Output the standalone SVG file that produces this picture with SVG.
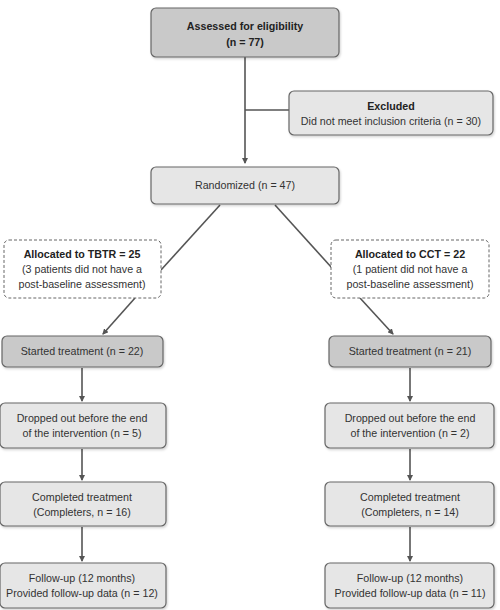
<svg xmlns="http://www.w3.org/2000/svg" width="500" height="610" viewBox="0 0 500 610">
<defs>
<marker id="ah" markerWidth="6" markerHeight="6" refX="5" refY="3" orient="auto" markerUnits="userSpaceOnUse">
<path d="M0,0 L6,3 L0,6 Z" fill="#555"/>
</marker>
<filter id="sh" x="-5%" y="-10%" width="115%" height="130%">
<feDropShadow dx="1" dy="1.5" stdDeviation="1" flood-color="#000" flood-opacity="0.18"/>
</filter>
</defs>
<style>
.box{stroke:#666;stroke-width:1.2;filter:url(#sh)}
.dark{fill:#c9c9c9}
.light{fill:#e6e6e6}
.dash{fill:#fff;stroke:#666;stroke-width:1;stroke-dasharray:3,2}
text{font-family:"Liberation Sans",Arial,sans-serif;font-size:10.7px;fill:#333;text-anchor:middle}
.b{font-weight:bold;fill:#222}
.ln{stroke:#555;stroke-width:1.6;fill:none}
</style>
<rect width="500" height="610" fill="#fff"/>
<g id="connectors">
<line class="ln" x1="245" y1="57" x2="245" y2="163" marker-end="url(#ah)"/>
<line class="ln" x1="245" y1="110" x2="289" y2="110"/>
<line class="ln" x1="220" y1="205" x2="161" y2="270"/>
<line class="ln" x1="275" y1="205" x2="332" y2="268"/>
<line class="ln" x1="135" y1="298" x2="103" y2="334" marker-end="url(#ah)"/>
<line class="ln" x1="360" y1="298" x2="393" y2="334" marker-end="url(#ah)"/>
<line class="ln" x1="82" y1="368" x2="82" y2="401" marker-end="url(#ah)"/>
<line class="ln" x1="82" y1="449" x2="82" y2="480" marker-end="url(#ah)"/>
<line class="ln" x1="82" y1="527" x2="82" y2="561" marker-end="url(#ah)"/>
<line class="ln" x1="410" y1="368" x2="410" y2="401" marker-end="url(#ah)"/>
<line class="ln" x1="410" y1="449" x2="410" y2="480" marker-end="url(#ah)"/>
<line class="ln" x1="410" y1="527" x2="410" y2="561" marker-end="url(#ah)"/>
</g>
<g id="assessed">
<rect class="box dark" x="151" y="8" width="188" height="49" rx="5"/>
<text class="b" x="245" y="30">Assessed for eligibility</text>
<text class="b" x="245" y="46">(n = 77)</text>
</g>
<g id="excluded">
<rect class="box light" x="289" y="91" width="204" height="44" rx="5"/>
<text class="b" x="391" y="110">Excluded</text>
<text x="391" y="125">Did not meet inclusion criteria (n = 30)</text>
</g>
<g id="randomized">
<rect class="box light" x="151" y="167" width="188" height="37" rx="5"/>
<text x="245" y="189">Randomized (n = 47)</text>
</g>
<g id="alloc-tbtr">
<rect class="dash" x="4" y="240" width="157" height="58" rx="5"/>
<text class="b" x="82" y="258">Allocated to TBTR = 25</text>
<text x="82" y="273">(3 patients did not have a</text>
<text x="82" y="288">post-baseline assessment)</text>
</g>
<g id="alloc-cct">
<rect class="dash" x="331" y="240" width="158" height="58" rx="5"/>
<text class="b" x="410" y="258">Allocated to CCT = 22</text>
<text x="410" y="273">(1 patient did not have a</text>
<text x="410" y="288">post-baseline assessment)</text>
</g>
<g id="started-tbtr">
<rect class="box dark" x="2" y="336" width="161" height="31" rx="5"/>
<text x="82" y="355">Started treatment (n = 22)</text>
</g>
<g id="started-cct">
<rect class="box dark" x="329" y="336" width="162" height="31" rx="5"/>
<text x="410" y="355">Started treatment (n = 21)</text>
</g>
<g id="dropped-tbtr">
<rect class="box light" x="0" y="403" width="166" height="45" rx="5"/>
<text x="82" y="422">Dropped out before the end</text>
<text x="82" y="437">of the intervention (n = 5)</text>
</g>
<g id="dropped-cct">
<rect class="box light" x="325" y="403" width="169" height="45" rx="5"/>
<text x="410" y="422">Dropped out before the end</text>
<text x="410" y="437">of the intervention (n = 2)</text>
</g>
<g id="completed-tbtr">
<rect class="box light" x="0" y="482" width="166" height="44" rx="5"/>
<text x="82" y="501">Completed treatment</text>
<text x="82" y="516">(Completers, n = 16)</text>
</g>
<g id="completed-cct">
<rect class="box light" x="325" y="482" width="169" height="44" rx="5"/>
<text x="410" y="501">Completed treatment</text>
<text x="410" y="516">(Completers, n = 14)</text>
</g>
<g id="followup-tbtr">
<rect class="box light" x="0" y="563" width="166" height="45" rx="5"/>
<text x="82" y="582">Follow-up (12 months)</text>
<text x="82" y="597">Provided follow-up data (n = 12)</text>
</g>
<g id="followup-cct">
<rect class="box light" x="325" y="563" width="169" height="45" rx="5"/>
<text x="410" y="582">Follow-up (12 months)</text>
<text x="410" y="597">Provided follow-up data (n = 11)</text>
</g>
</svg>
